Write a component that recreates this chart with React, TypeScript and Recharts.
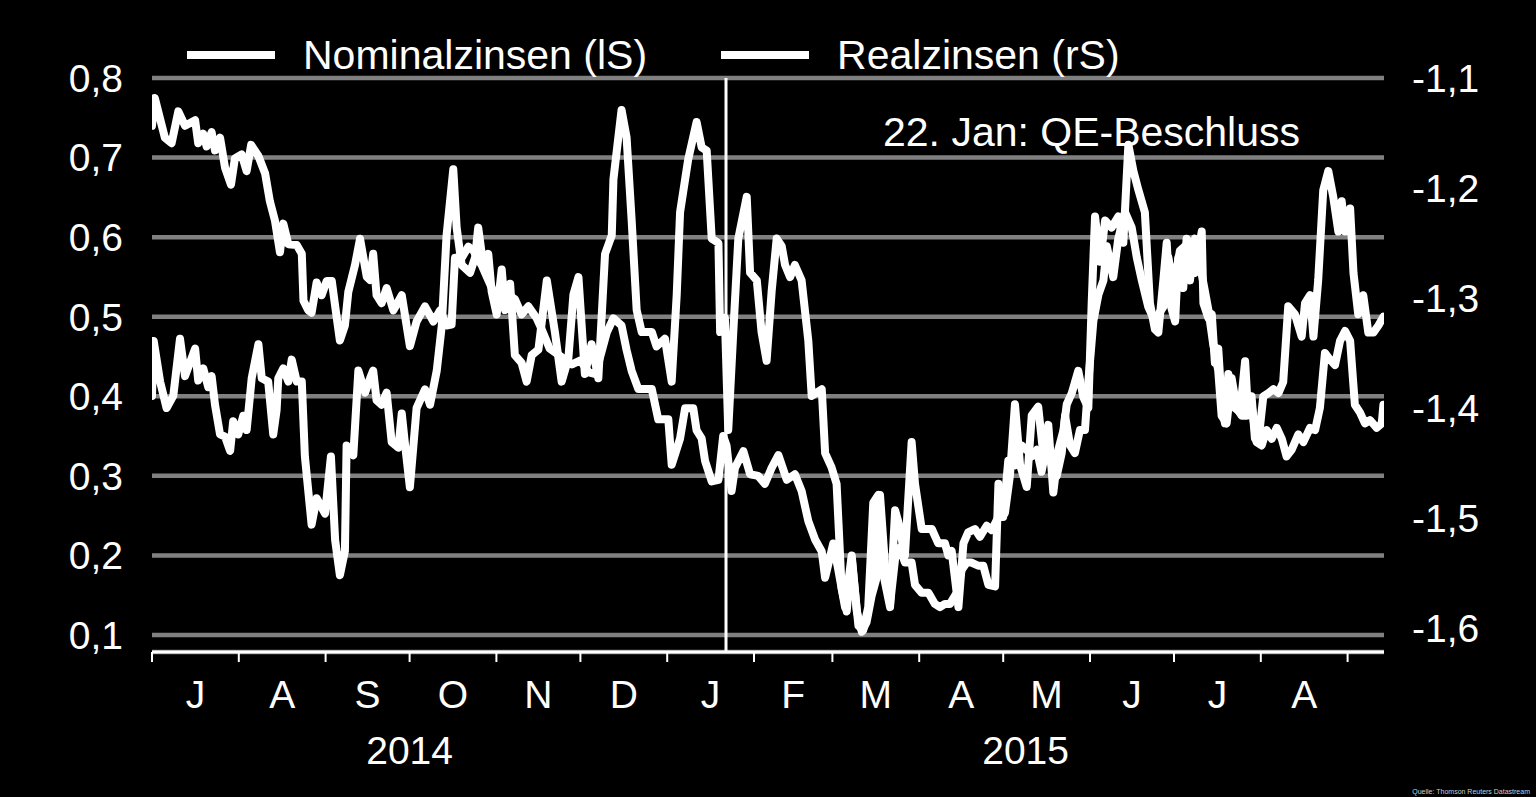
import {
  LineChart,
  Line,
  XAxis,
  YAxis,
  CartesianGrid,
  ReferenceLine,
  Legend,
} from 'recharts'

// x = days since 1 Jul 2014
const monthStarts = [0, 31, 62, 92, 123, 153, 184, 215, 243, 274, 304, 335, 365, 396, 427]
const monthMids = [15.5, 46.5, 77, 107.5, 138, 168.5, 199.5, 229, 258.5, 289, 319.5, 350, 380.5, 411.5]
const monthLabels = ['J', 'A', 'S', 'O', 'N', 'D', 'J', 'F', 'M', 'A', 'M', 'J', 'J', 'A']
const yearCenters = [92, 312]
const yearLabels = ['2014', '2015']
const leftTicks = [0.1, 0.2, 0.3, 0.4, 0.5, 0.6, 0.7, 0.8]
const rightTicks = [-1.6, -1.5, -1.4, -1.3, -1.2, -1.1]
const qeDay = 205 // 22 Jan 2015
const legendNames = ['Nominalzinsen (lS)', 'Realzinsen (rS)']

// Nominalzinsen, linke Skala
const nominal: [number, number][] = [
  [0, 0.74], [1, 0.775], [4.6, 0.725], [7, 0.718], [9.4, 0.758], [11.8, 0.74], [15.4, 0.747], [16.5, 0.718],
  [18.3, 0.73], [19.5, 0.714], [21.3, 0.732], [22.5, 0.709], [24.3, 0.725], [26.1, 0.687], [28.2, 0.666],
  [29.6, 0.699], [32, 0.704], [33.8, 0.683], [35.4, 0.716], [38, 0.702], [40.4, 0.68], [42.1, 0.645],
  [43.9, 0.621], [45.7, 0.581], [46.9, 0.617], [48.7, 0.591], [51.7, 0.59], [53.5, 0.579], [54.1, 0.52],
  [55.8, 0.508], [57, 0.505], [58.8, 0.543], [60.6, 0.527], [62.4, 0.545], [64.2, 0.545], [66, 0.498],
  [67.1, 0.47], [68.9, 0.489], [70.1, 0.531], [72.5, 0.565], [74.3, 0.598], [76.7, 0.55], [77.9, 0.546],
  [79, 0.579], [80.2, 0.527], [82, 0.517], [83.8, 0.536], [86.2, 0.508], [89.2, 0.527], [92.1, 0.463],
  [94.5, 0.494], [97.5, 0.513], [100.5, 0.494], [102.9, 0.508], [105.2, 0.489], [107, 0.49], [108.2, 0.574],
  [110.6, 0.574], [113, 0.588], [114.8, 0.583], [117.7, 0.565], [120.1, 0.546], [122.5, 0.527], [124.9, 0.527],
  [127.3, 0.527], [129.6, 0.522], [132, 0.503], [134.4, 0.513], [137.4, 0.498], [139.2, 0.484], [142, 0.46],
  [146, 0.45], [150, 0.44], [153, 0.445], [156, 0.43], [158.4, 0.428], [162.4, 0.48], [164.8, 0.498],
  [167.7, 0.489], [169.5, 0.458], [171.3, 0.432], [173.7, 0.409], [178.5, 0.409], [180.8, 0.371], [184.4, 0.371],
  [185.6, 0.314], [188.6, 0.347], [190.4, 0.385], [193.3, 0.385], [194.5, 0.357], [196.3, 0.347], [197.5, 0.319],
  [199.9, 0.293], [202.3, 0.295], [204, 0.35], [205.2, 0.338], [207, 0.281], [208.2, 0.31], [211.2, 0.331],
  [213.6, 0.302], [216.5, 0.3], [218.9, 0.29], [221.3, 0.31], [223.7, 0.326], [226.7, 0.295], [229.6, 0.302],
  [232, 0.281], [234.4, 0.243], [236.8, 0.22], [239.2, 0.205], [240.4, 0.172], [243.3, 0.215], [245.1, 0.182],
  [247.5, 0.135], [249.9, 0.2], [251.7, 0.13], [253.5, 0.104], [255.2, 0.116], [257, 0.149], [258.8, 0.172],
  [260, 0.276], [261.8, 0.187], [263.6, 0.139], [265.4, 0.196], [267.1, 0.21], [268.9, 0.191], [271.3, 0.191],
  [272.5, 0.163], [274.9, 0.153], [277.3, 0.153], [279.6, 0.139], [281.4, 0.135], [283.2, 0.139], [285, 0.139],
  [287.4, 0.153], [289.2, 0.182], [291, 0.191], [292.7, 0.191], [295.1, 0.187], [296.9, 0.187], [298.7, 0.163],
  [301.1, 0.161], [302.3, 0.29], [304.6, 0.253], [306.4, 0.3], [308.2, 0.39], [310, 0.314], [312.4, 0.286],
  [314.2, 0.376], [316.5, 0.387], [318.3, 0.328], [320.1, 0.364], [321.9, 0.279], [323.7, 0.333], [325.5, 0.357],
  [326.7, 0.39], [328.5, 0.404], [330.8, 0.432], [332.6, 0.399], [334.4, 0.385], [335.6, 0.517], [336.8, 0.626],
  [338.6, 0.569], [340.4, 0.621], [342.7, 0.612], [345.1, 0.626], [346.9, 0.593], [348.7, 0.716], [350.5, 0.683],
  [352.3, 0.659], [354.6, 0.631], [356.4, 0.517], [358.2, 0.484], [359.4, 0.48], [361.2, 0.546], [362.4, 0.593],
  [363.6, 0.517], [365.4, 0.494], [366.5, 0.574], [368.3, 0.536], [369.5, 0.598], [371.3, 0.588], [372.5, 0.555],
  [374.9, 0.607], [375.5, 0.517], [377.3, 0.498], [378.5, 0.503], [379.6, 0.442], [380.8, 0.46], [382, 0.394],
  [383.2, 0.366], [384.4, 0.428], [385.6, 0.409], [386.8, 0.385], [388.6, 0.38], [390.4, 0.444], [391.5, 0.376],
  [392.7, 0.4], [393.9, 0.347], [395.1, 0.342], [396.9, 0.4], [398.7, 0.404], [400.5, 0.409], [402.3, 0.404],
  [404, 0.418], [405.8, 0.513], [408.2, 0.503], [410.6, 0.475], [411.8, 0.517], [413.6, 0.527], [414.8, 0.475],
  [416.5, 0.546], [418.3, 0.659], [420.1, 0.683], [421.9, 0.65], [423.7, 0.607], [424.9, 0.645], [426.1, 0.607],
  [427.9, 0.636], [429.1, 0.555], [430.8, 0.503], [432.6, 0.527], [434.4, 0.48], [436.2, 0.48], [438, 0.489],
  [439.8, 0.5],
]

// Realzinsen, rechte Skala
const real: [number, number][] = [
  [0, -1.389], [0.6, -1.339], [2.9, -1.376], [5.2, -1.4], [7.6, -1.389], [10, -1.337], [11.8, -1.371],
  [15.4, -1.346], [16.5, -1.375], [18.3, -1.364], [20.1, -1.381], [21.3, -1.371], [22.5, -1.397], [24.3, -1.424],
  [26.1, -1.426], [27.9, -1.439], [29, -1.412], [30.8, -1.424], [32.6, -1.407], [33.8, -1.42], [35.6, -1.373],
  [38, -1.342], [39.2, -1.373], [41.5, -1.376], [43.3, -1.424], [44.5, -1.402], [45.1, -1.373], [46.9, -1.364],
  [48.7, -1.376], [49.9, -1.356], [51.7, -1.376], [53.5, -1.376], [54.6, -1.444], [57, -1.506], [58.8, -1.482],
  [61.8, -1.496], [63.9, -1.444], [65.4, -1.52], [67.1, -1.552], [68.9, -1.53], [69.5, -1.434], [71.9, -1.443],
  [73.7, -1.366], [76.1, -1.386], [77.9, -1.373], [79, -1.366], [80.2, -1.393], [82, -1.397], [83.8, -1.386],
  [85.6, -1.431], [88, -1.436], [89.2, -1.405], [90.4, -1.434], [92.1, -1.472], [94.5, -1.4], [97.5, -1.383],
  [99.3, -1.397], [101.7, -1.366], [103.5, -1.325], [105.2, -1.243], [107.6, -1.183], [108.8, -1.236],
  [110.6, -1.27], [113.6, -1.277], [115.4, -1.263], [116.5, -1.236], [118.3, -1.27], [120.1, -1.26],
  [121.3, -1.294], [123.1, -1.315], [124.9, -1.274], [126.1, -1.311], [127.9, -1.287], [129.6, -1.352],
  [132, -1.359], [133.8, -1.376], [135.6, -1.352], [138, -1.347], [141, -1.284], [143.9, -1.331], [146.3, -1.376],
  [148.7, -1.355], [150.5, -1.297], [152.3, -1.281], [154.6, -1.369], [157, -1.342], [159.4, -1.373],
  [161.8, -1.26], [164.2, -1.243], [164.8, -1.192], [167.7, -1.129], [169.5, -1.154], [171.3, -1.229],
  [173.1, -1.311], [174.9, -1.331], [178.5, -1.331], [180.2, -1.344], [183.2, -1.337], [185.6, -1.376],
  [187.4, -1.297], [188.6, -1.222], [191.5, -1.174], [194.5, -1.14], [196.3, -1.163], [198.1, -1.166],
  [199.9, -1.246], [202.3, -1.25], [202.9, -1.331], [204.6, -1.318], [205.8, -1.42], [207.6, -1.331],
  [209.4, -1.246], [212.4, -1.208], [213.6, -1.277], [216, -1.284], [217.7, -1.331], [219.5, -1.357],
  [221.3, -1.294], [223.1, -1.246], [224.9, -1.253], [226.1, -1.27], [227.9, -1.281], [229.6, -1.27],
  [232, -1.284], [234.4, -1.339], [235.6, -1.389], [237.4, -1.386], [239.2, -1.383], [240.4, -1.441],
  [242.7, -1.454], [244.5, -1.469], [246.3, -1.564], [248.1, -1.585], [249.9, -1.537], [252.3, -1.598],
  [254, -1.602], [255.8, -1.581], [257.6, -1.486], [259.4, -1.479], [261.2, -1.551], [263.6, -1.581],
  [265.4, -1.493], [266.5, -1.503], [268.9, -1.534], [271.3, -1.431], [272.5, -1.469], [274.9, -1.51],
  [278.5, -1.51], [280.8, -1.523], [283.2, -1.523], [284.4, -1.534], [285.6, -1.53], [288, -1.581],
  [289.8, -1.523], [291.5, -1.513], [293.9, -1.51], [295.7, -1.517], [298.1, -1.507], [299.9, -1.511],
  [302.3, -1.499], [304, -1.499], [305.8, -1.448], [308.2, -1.452], [310.6, -1.434], [312.4, -1.438],
  [314.2, -1.444], [316, -1.438], [317.7, -1.458], [319.5, -1.434], [321.3, -1.452], [323.1, -1.462],
  [324.9, -1.441], [326.1, -1.407], [327.9, -1.434], [329.6, -1.441], [331.4, -1.42], [333.2, -1.42],
  [334.4, -1.376], [336.2, -1.321], [338, -1.297], [339.8, -1.284], [341, -1.253], [343.3, -1.281],
  [345.1, -1.246], [347.5, -1.222], [349.9, -1.236], [351.7, -1.263], [353.5, -1.284], [355.8, -1.308],
  [357.6, -1.318], [359.4, -1.315], [361.2, -1.308], [363, -1.263], [364.8, -1.291], [367.1, -1.257],
  [368.9, -1.253], [370.7, -1.284], [372.5, -1.246], [374.3, -1.27], [377.3, -1.311], [379, -1.342],
  [380.8, -1.366], [382, -1.407], [383.8, -1.414], [385.6, -1.373], [387.4, -1.4], [389.2, -1.407],
  [391, -1.407], [392.7, -1.397], [394.5, -1.431], [396.3, -1.434], [398.1, -1.42], [399.9, -1.428],
  [401.7, -1.418], [403.5, -1.428], [405.2, -1.444], [407, -1.438], [409.4, -1.424], [411.2, -1.431],
  [413.6, -1.418], [415.4, -1.42], [417.1, -1.4], [418.9, -1.35], [420.7, -1.356], [422.5, -1.361],
  [424.3, -1.339], [426.1, -1.33], [427.9, -1.339], [429.6, -1.397], [431.4, -1.404], [433.2, -1.414],
  [435, -1.411], [437.4, -1.418], [439.2, -1.414], [439.8, -1.397],
]

const FONT = '"Liberation Sans", Arial, sans-serif'
const toGerman = (v: number) => v.toFixed(1).replace('.', ',')

const nominalData = nominal.map(([d, v]) => ({ d, v }))
const realData = real.map(([d, v]) => ({ d, v }))

// month boundary ticks: only the tick line, no text
const EmptyTick = () => <g />

function LegendContent() {
  return (
    <div style={{ display: 'flex', alignItems: 'center', height: 54, fontFamily: FONT }}>
      {legendNames.map((name, i) => (
        <div
          key={name}
          style={{ display: 'flex', alignItems: 'center', marginRight: i === 0 ? 74 : 0 }}
        >
          <svg width={88} height={10}>
            <line x1={0} x2={88} y1={5} y2={5} stroke="#fff" strokeWidth={8} />
          </svg>
          <span style={{ marginLeft: 28, color: '#fff', fontSize: 41, whiteSpace: 'nowrap' }}>
            {name}
          </span>
        </div>
      ))}
    </div>
  )
}

function renderAnnotation(props: any) {
  const { viewBox } = props
  return (
    <text
      x={viewBox.x + 157}
      y={viewBox.y + 53}
      dy="0.355em"
      fill="#fff"
      fontSize={41}
      fontFamily={FONT}
      textAnchor="start"
    >
      22. Jan: QE-Beschluss
    </text>
  )
}

export default function App() {
  const tickStyle = { fill: '#fff', fontSize: 39, fontFamily: FONT }
  return (
    <div
      style={{
        position: 'fixed',
        left: 0,
        top: 0,
        width: 1536,
        height: 797,
        background: '#000',
        fontFamily: FONT,
      }}
    >
      <LineChart width={1536} height={797} margin={{ top: 78, right: 0, left: 0, bottom: 33 }}>
        <CartesianGrid
          xAxisId="main"
          yAxisId="left"
          vertical={false}
          stroke="#808080"
          strokeWidth={4.5}
        />
        <XAxis
          xAxisId="main"
          type="number"
          dataKey="d"
          domain={[0, 440]}
          ticks={monthStarts}
          interval={0}
          allowDataOverflow
          height={12}
          tick={<EmptyTick />}
          tickSize={10}
          tickLine={{ stroke: '#fff', strokeWidth: 2 }}
          axisLine={{ stroke: '#fff', strokeWidth: 3 }}
        />
        <XAxis
          xAxisId="months"
          type="number"
          dataKey="d"
          domain={[0, 440]}
          ticks={monthMids}
          interval={0}
          allowDataOverflow
          height={50}
          axisLine={false}
          tickLine={false}
          tickSize={0}
          tickMargin={16}
          tick={tickStyle}
          tickFormatter={(v: number) => monthLabels[monthMids.indexOf(v)] ?? ''}
        />
        <XAxis
          xAxisId="years"
          type="number"
          dataKey="d"
          domain={[0, 440]}
          ticks={yearCenters}
          interval={0}
          allowDataOverflow
          height={50}
          axisLine={false}
          tickLine={false}
          tickSize={0}
          tickMargin={22}
          tick={tickStyle}
          tickFormatter={(v: number) => yearLabels[yearCenters.indexOf(v)] ?? ''}
        />
        <YAxis
          yAxisId="left"
          width={152}
          domain={[0.0786, 0.8]}
          ticks={leftTicks}
          interval={0}
          allowDataOverflow
          axisLine={false}
          tickLine={false}
          tickSize={0}
          tickMargin={29}
          tick={tickStyle}
          tickFormatter={toGerman}
        />
        <YAxis
          yAxisId="right"
          orientation="right"
          width={152}
          domain={[-1.6218, -1.1]}
          ticks={rightTicks}
          interval={0}
          allowDataOverflow
          axisLine={false}
          tickLine={false}
          tickSize={0}
          tickMargin={28}
          tick={tickStyle}
          tickFormatter={toGerman}
        />
        <Legend
          layout="horizontal"
          verticalAlign="middle"
          align="center"
          content={<LegendContent />}
          wrapperStyle={{ top: 28, left: 187, width: 1100 }}
        />
        <ReferenceLine
          xAxisId="main"
          yAxisId="left"
          x={qeDay}
          stroke="#fff"
          strokeWidth={3}
          label={renderAnnotation}
        />
        <Line
          xAxisId="main"
          yAxisId="left"
          data={nominalData}
          dataKey="v"
          name="Nominalzinsen (lS)"
          type="linear"
          stroke="#fff"
          strokeWidth={8}
          strokeLinejoin="round"
          strokeLinecap="round"
          dot={false}
          activeDot={false}
          isAnimationActive={false}
        />
        <Line
          xAxisId="main"
          yAxisId="right"
          data={realData}
          dataKey="v"
          name="Realzinsen (rS)"
          type="linear"
          stroke="#fff"
          strokeWidth={8}
          strokeLinejoin="round"
          strokeLinecap="round"
          dot={false}
          activeDot={false}
          isAnimationActive={false}
        />
      </LineChart>
      <div
        style={{
          position: 'absolute',
          right: 6,
          bottom: 2,
          color: '#ccc',
          fontSize: 7,
          whiteSpace: 'nowrap',
        }}
      >
        Quelle: Thomson Reuters Datastream
      </div>
    </div>
  )
}
